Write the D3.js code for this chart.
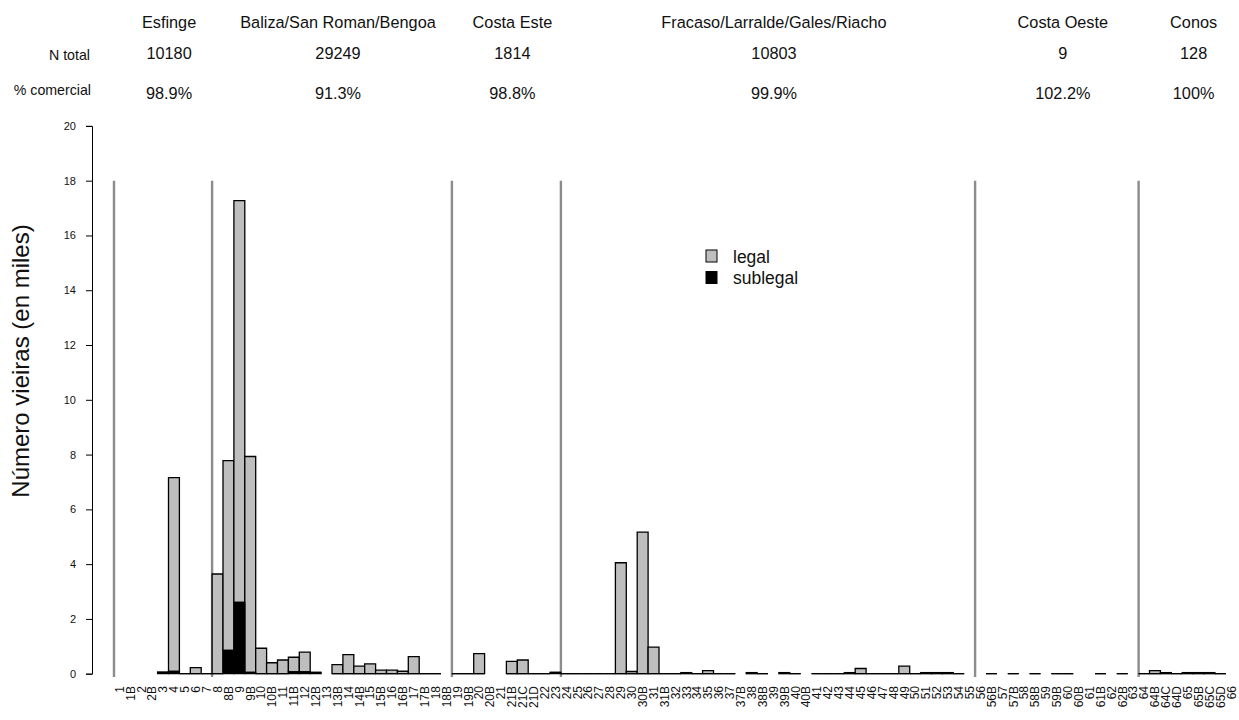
<!DOCTYPE html>
<html>
<head>
<meta charset="utf-8">
<script src="https://cdn.jsdelivr.net/npm/d3@7"></script>
<style>
  html, body { margin: 0; padding: 0; background: #fff; }
  text { font-family: Arial, "Liberation Sans", sans-serif; fill: #111; }
</style>
</head>
<body>
<svg id="chart" width="1239" height="720"></svg>
<script>
// Sampling stations, in plotting order
const categories = [
  "1","1B","2","2B","3","4","5","6","7",
  "8","8B","9","9B","10","10B","11","11B","12","12B","13","13B","14","14B","15","15B","16","16B","17","17B","18","18B",
  "19","19B","20","20B","21","21B","21C","21D","22","23",
  "24","25","26","27","28","29","30","30B","31","31B","32","33","34","35","36","37","37B","38","38B","39","39B","40","40B","41","42","43","44","45","46","47","48","49","50","51","52","53","54","55",
  "56","56B","57","57B","58","58B","59","59B","60","60B","61","61B","62","62B","63",
  "64","64B","64C","64D","65","65B","65C","65D","66"
];

// Thousands of scallops per station (null = station not sampled)
const sublegal = [
  null,null,null,null,0.05,0.08,0,0,0,
  0,0.85,2.6,0.05,0,0,0,0.07,0.07,0.05,null,0,0,0,0,0,0,0,0,0,0,null,
  0,0,0,null,null,0,0,0,0,0.05,
  0,0,0,0,0,0,0,0,0,0,0,0.04,0,0,0,0,null,0.04,0,null,0.04,0,null,0,0,0,0.04,0,0,0,0,0,0,0.04,0.04,0.04,0,null,
  null,0,null,0,null,0,null,0,0,null,null,0,null,0,null,
  0,0,0.04,0,0.04,0.04,0.04,0,null
];
const legal = [
  null,null,null,null,0.01,7.08,0,0.22,0,
  3.64,6.93,14.67,7.88,0.93,0.40,0.50,0.53,0.72,0,null,0.33,0.70,0.28,0.36,0.13,0.13,0.09,0.62,0,0,null,
  0,0,0.73,null,null,0.45,0.50,0,0,0,
  0,0,0,0,0,4.05,0.08,5.17,0.97,0,0,0,0,0.11,0,0,null,0,0,null,0,0,null,0,0,0,0,0.19,0,0,0,0.28,0,0,0,0,0,null,
  null,0,null,0,null,0,null,0,0,null,null,0,null,0,null,
  0,0.11,0,0,0,0,0,0,null
];

// Zones: name, number of stations, total count and commercial share
const zoneNames = ["Esfinge","Baliza/San Roman/Bengoa","Costa Este","Fracaso/Larralde/Gales/Riacho","Costa Oeste","Conos"];
const zoneSizes = [9, 22, 10, 38, 15, 9];
const zoneTotals = ["10180","29249","1814","10803","9","128"];
const zonePctComercial = ["98.9%","91.3%","98.8%","99.9%","102.2%","100%"];

const yTicks = [0,2,4,6,8,10,12,14,16,18,20];
const legendItems = [["legal","#bebebe"],["sublegal","#000000"]];

const svg = d3.select("#chart");

const x = d3.scaleBand().domain(categories).range([114, 114 + categories.length * 10.9]).padding(0);
const y = d3.scaleLinear().domain([0, 20]).range([673.7, 125.9]);

// Zone start indices
const zoneStart = [];
zoneSizes.reduce((acc, n) => { zoneStart.push(acc); return acc + n; }, 0);

// Zone separators
svg.append("g").selectAll("line")
  .data(zoneStart)
  .join("line")
  .attr("x1", i => x(categories[i]))
  .attr("x2", i => x(categories[i]))
  .attr("y1", y(18))
  .attr("y2", y(-0.12))
  .attr("stroke", "#8c8c8c")
  .attr("stroke-width", 2.4);

// Bars: sublegal at the base, legal stacked on top
const barPath = (x0, x1, y0, y1) => `M${x0},${y0}H${x1}V${y1}H${x0}Z`;
const rows = categories.map((c, i) => ({ c, sub: sublegal[i], leg: legal[i] }))
  .filter(d => d.sub !== null && d.leg !== null);

const bars = svg.append("g");
bars.selectAll("path.leg")
  .data(rows)
  .join("path")
  .attr("class", "leg")
  .attr("d", d => barPath(x(d.c), x(d.c) + x.bandwidth(), y(d.sub), y(d.sub + d.leg)))
  .attr("fill", "#bebebe")
  .attr("stroke", "#000")
  .attr("stroke-width", 1.3);
bars.selectAll("path.sub")
  .data(rows)
  .join("path")
  .attr("class", "sub")
  .attr("d", d => barPath(x(d.c), x(d.c) + x.bandwidth(), y(0), y(d.sub)))
  .attr("fill", "#000")
  .attr("stroke", "#000")
  .attr("stroke-width", 1.3);

// Station labels, vertical
svg.append("g").selectAll("text")
  .data(categories)
  .join("text")
  .attr("transform", c => `translate(${x(c) + x.bandwidth() / 2 + 4.3},686) rotate(-90)`)
  .attr("text-anchor", "end")
  .attr("font-size", 12)
  .text(c => c);

// Y axis
const yAxis = svg.append("g")
  .attr("transform", "translate(92,0)")
  .call(d3.axisLeft(y).tickValues(yTicks).tickSize(6).tickPadding(10));
yAxis.select(".domain").attr("stroke", "#000");
yAxis.selectAll(".tick line").attr("stroke", "#000");
yAxis.selectAll(".tick text").attr("font-size", 11).attr("fill", "#111")
  .attr("font-family", "Arial, 'Liberation Sans', sans-serif");

svg.append("text")
  .attr("transform", "translate(29,361) rotate(-90)")
  .attr("text-anchor", "middle")
  .attr("font-size", 24)
  .text("Número vieiras (en miles)");

// Zone header rows
const zoneCenter = k => {
  const a = x(categories[zoneStart[k]]);
  const b = x(categories[zoneStart[k] + zoneSizes[k] - 1]) + x.bandwidth();
  return (a + b) / 2 + 6;
};
const header = svg.append("g").attr("text-anchor", "middle");
header.selectAll("text.zn").data(zoneNames).join("text").attr("class", "zn")
  .attr("x", (d, k) => zoneCenter(k)).attr("y", 28).attr("font-size", 16.3).text(d => d);
header.selectAll("text.zt").data(zoneTotals).join("text").attr("class", "zt")
  .attr("x", (d, k) => zoneCenter(k)).attr("y", 59).attr("font-size", 16.3).text(d => d);
header.selectAll("text.zp").data(zonePctComercial).join("text").attr("class", "zp")
  .attr("x", (d, k) => zoneCenter(k)).attr("y", 99).attr("font-size", 16.3).text(d => d);

svg.append("text").attr("x", 90).attr("y", 60).attr("text-anchor", "end").attr("font-size", 14.2).text("N total");
svg.append("text").attr("x", 91).attr("y", 95).attr("text-anchor", "end").attr("font-size", 14.2).text("% comercial");

// Legend
const legend = svg.append("g").attr("transform", "translate(706,250)");
const li = legend.selectAll("g").data(legendItems).join("g")
  .attr("transform", (d, i) => `translate(0,${i * 21.5})`);
li.append("rect").attr("width", 11).attr("height", 12)
  .attr("fill", d => d[1]).attr("stroke", "#000").attr("stroke-width", 1);
li.append("text").attr("x", 27).attr("y", 12.5).attr("font-size", 17.5).text(d => d[0]);
</script>
</body>
</html>
